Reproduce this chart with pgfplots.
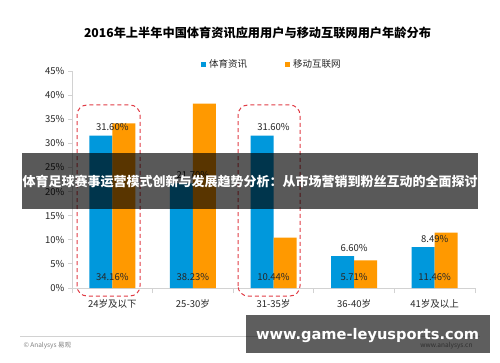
\documentclass[border=0pt]{standalone}
\usepackage{fontspec}
\setmainfont{Noto Sans CJK SC}
\newfontfamily\wmfont{DejaVu Sans}
\usepackage{pgfplots}
\pgfplotsset{compat=1.18}
\definecolor{cblue}{RGB}{0,152,220}
\definecolor{corange}{RGB}{255,153,0}
\definecolor{axgray}{RGB}{210,210,210}
\definecolor{dred}{RGB}{225,60,70}
\definecolor{txt}{RGB}{38,38,38}
\begin{document}
\begin{tikzpicture}[x=1pt,y=1pt]
\path[use as bounding box, fill=white] (0,0) rectangle (500,362);
\coordinate (axorigin) at (72,74);
\begin{axis}[
  at={(axorigin)}, anchor=south west, scale only axis,
  width=403pt, height=217pt,
  xmin=-0.5, xmax=4.5, ymin=0, ymax=45,
  axis x line*=bottom, axis y line*=left,
  axis line style={axgray, line width=0.8pt},
  /pgf/number format/assume math mode=true,
  xtick={0,1,2,3,4},
  xticklabels={24岁及以下,25-30岁,31-35岁,36-40岁,41岁及以上},
  major x tick style={draw=none},
  minor xtick={-0.5,0.5,1.5,2.5,3.5,4.5},
  minor tick length=5pt,
  major tick length=4pt,
  tick align=outside,
  tick style={axgray, line width=0.8pt},
  ytick={0,5,...,45},
  yticklabel={\pgfmathprintnumber{\tick}\%},
  ticklabel style={font=\fontsize{9.5}{11}\selectfont, text=txt},
  xticklabel style={yshift=-4pt},
  legend style={at={(0.496,1)}, anchor=center, yshift=7pt, draw=none, fill=none,
    legend columns=2, font=\fontsize{9.5}{11}\selectfont, text=txt,
    /tikz/every even column/.append style={column sep=36pt},
    /tikz/every odd column/.append style={column sep=1pt}},
  clip=false,
]
\addplot[ybar, bar width=23pt, bar shift=-11.5pt, fill=cblue, draw=none,
  legend image code/.code={\fill[cblue] (0pt,-2.5pt) rectangle (5pt,2.5pt);},
  nodes near coords={\pgfmathprintnumber[fixed, fixed zerofill, precision=2]{\pgfplotspointmeta}\%},
  every node near coord/.append style={anchor=south, yshift=1pt, text=txt, font=\fontsize{9.5}{11}\selectfont}]
  coordinates {(0,31.6) (1,21.7) (2,31.6) (3,6.6) (4,8.49)};
\addplot[ybar, bar width=23pt, bar shift=11.5pt, fill=corange, draw=none,
  legend image code/.code={\fill[corange] (0pt,-2.5pt) rectangle (5pt,2.5pt);},
  visualization depends on={rawy \as \rawy},
  nodes near coords={\pgfmathprintnumber[fixed, fixed zerofill, precision=2]{\pgfplotspointmeta}\%},
  every node near coord/.append style={anchor=center, yshift={-\rawy*4.8222pt+11pt}, text=txt, font=\fontsize{9.5}{11}\selectfont}]
  coordinates {(0,34.16) (1,38.23) (2,10.44) (3,5.71) (4,11.46)};
\legend{体育资讯,移动互联网}
\end{axis}
% title
\node[font=\bfseries\fontsize{12.2}{14}\selectfont, text=black] at (257.5,329) {2016年上半年中国体育资讯应用用户与移动互联网用户年龄分布};
% dashed highlight boxes
\draw[dred, line width=1pt, dash pattern=on 4pt off 3pt, rounded corners=10pt] (77,66) rectangle (140,257);
\draw[dred, line width=1pt, dash pattern=on 4pt off 3pt, rounded corners=10pt] (238,66) rectangle (300,257);
% footer
\draw[gray!35, line width=0.8pt] (20,26) -- (480,26);
\node[anchor=west, font=\fontsize{6.5}{8}\selectfont, text=gray] at (20,16) {© Analysys 易观};
\node[anchor=east, font=\fontsize{6.5}{8}\selectfont, text=gray] at (476,16) {www.analysys.cn};
% banner overlay
\fill[black, opacity=0.65] (22,153) rectangle (478,209);
\node[text=white, font=\bfseries\fontsize{13}{15}\selectfont] at (250,180) {体育足球赛事运营模式创新与发展趋势分析：从市场营销到粉丝互动的全面探讨};
% watermark box
\fill[black, opacity=0.63] (246,9) rectangle (490,47);
\node[text=white] at (367.5,26) {\resizebox{223pt}{!}{\wmfont\bfseries www.game-leyusports.com}};
\end{tikzpicture}
\end{document}
